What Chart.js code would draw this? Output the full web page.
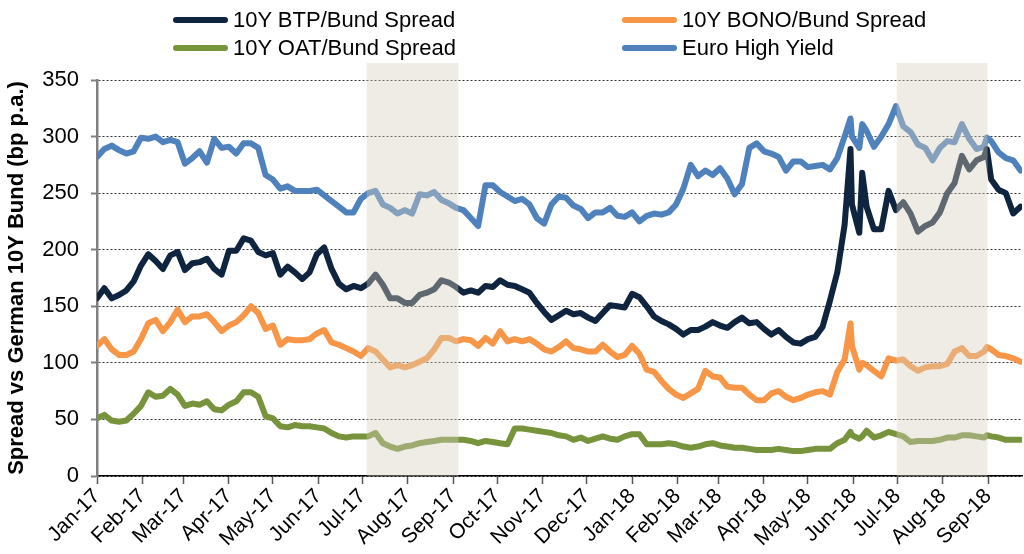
<!DOCTYPE html>
<html>
<head>
<meta charset="utf-8">
<script src="https://cdn.jsdelivr.net/npm/chart.js@4.4.1/dist/chart.umd.min.js"></script>
<style>
  body { margin: 0; background: #fff; }
  #wrap { position: relative; width: 1024px; height: 554px; }
  .item { position: absolute; display: flex; align-items: center; height: 28px;
          font-family: "Liberation Sans", Arial, sans-serif; font-size: 22px; color: #000; }
  .swatch { display: inline-block; width: 55px; height: 6px; border-radius: 3px; margin-right: 5px; }
</style>
</head>
<body>
<div id="wrap">
  <canvas id="spreadChart"></canvas>
  <div id="legend"></div>
</div>
<script>
// days since 1 Jan 2017
const days = [
    0,5,10,15,20,25,30,35,40,45,50,55,60,65,70,75,80,85,90,95,100,105,110,115,120,125,130,135,140,145,150,155,160,
    165,170,175,180,185,190,195,200,205,210,215,220,225,230,235,240,245,250,255,260,265,270,275,280,285,290,295,300,305,310,315,320,
    325,330,335,340,345,350,355,360,365,370,375,380,385,390,395,400,405,410,415,420,425,430,435,440,445,450,455,460,465,470,475,480,485,
    490,495,500,505,510,514,515,520,522,525,530,535,540,545,550,555,560,565,570,575,580,585,590,595,600,605,607,610,615,620,625,630
];
const btp = [
    157,166,157,160,164,172,186,196,190,183,195,198,182,188,189,192,183,178,199,199,210,208,198,195,197,178,185,180,174,180,196,202,183,
    170,165,168,166,170,178,169,157,157,153,153,160,162,165,173,171,167,162,164,162,168,167,173,169,168,165,162,153,145,138,142,146,
    143,144,140,137,144,151,150,149,161,158,150,141,137,134,130,125,129,129,132,136,133,131,136,140,135,136,130,125,129,123,118,117,121,
    123,132,155,180,222,289,240,215,268,238,218,218,252,235,242,232,216,221,224,233,250,259,283,271,279,282,289,262,253,250,232,238
];
const bono = [
    115,121,112,107,107,110,121,135,138,128,136,147,136,141,141,143,136,128,133,136,142,150,144,130,133,116,121,120,120,121,126,129,118,
    116,113,110,106,113,110,103,96,98,96,98,101,104,112,122,122,119,121,120,115,122,117,128,119,121,119,121,117,112,110,114,119,
    113,112,110,110,116,110,105,107,115,108,94,92,84,77,72,69,73,77,93,88,87,79,78,78,72,67,67,73,75,70,67,69,72,
    74,75,72,92,103,135,115,94,100,98,93,88,104,102,103,97,93,96,97,97,99,110,113,106,106,110,114,112,107,106,104,101
];
const oat = [
    51,54,49,48,49,55,62,74,70,71,77,72,62,64,63,66,59,58,63,66,74,74,70,53,51,44,43,45,44,44,43,42,38,
    35,34,35,35,35,38,29,26,24,26,27,29,30,31,32,32,32,32,31,29,31,30,29,28,42,42,41,40,39,38,36,35,
    32,34,31,33,35,33,32,35,37,37,28,28,28,29,28,26,25,26,28,29,27,26,25,25,24,23,23,23,24,23,22,22,23,
    24,24,24,29,32,39,36,33,35,40,34,36,39,37,35,30,31,31,31,32,34,34,36,36,35,34,36,35,34,32,32,32
];
const euroHY = [
    282,289,292,288,285,287,299,298,300,295,297,295,276,281,287,277,298,290,291,285,294,294,290,266,262,254,256,252,252,252,253,248,243,
    238,233,233,245,250,252,240,237,232,235,232,249,248,251,244,241,237,235,228,221,257,257,251,247,243,245,240,228,223,240,247,246,
    239,236,228,233,233,237,230,229,233,225,230,232,231,233,240,254,275,265,270,266,272,263,249,258,290,294,287,285,282,270,278,278,273,
    274,275,271,281,300,316,300,290,311,305,291,300,311,327,309,304,293,290,279,290,296,295,311,298,289,291,299,296,286,281,279,270
];
const monthDays = [0,31,59,90,120,151,181,212,243,273,304,334,365,396,424,455,485,516,546,577,608];
const monthLabels = ["Jan-17","Feb-17","Mar-17","Apr-17","May-17","Jun-17","Jul-17","Aug-17","Sep-17","Oct-17","Nov-17",
    "Dec-17","Jan-18","Feb-18","Mar-18","Apr-18","May-18","Jun-18","Jul-18","Aug-18","Sep-18"];
const shadedPeriods = [[184, 246.5], [545.5, 607.5]];

const seriesNames = ["10Y BTP/Bund Spread", "10Y BONO/Bund Spread", "10Y OAT/Bund Spread", "Euro High Yield"];
const seriesColors = ["#0F243E", "#F79646", "#77933C", "#4F81BD"];
const seriesData = [btp, bono, oat, euroHY];

const font = "'Liberation Sans', Arial, sans-serif";

// legend (2 x 2 grid like the original)
const legendSpots = [[173, 6], [622, 6], [173, 34], [622, 34]];
const legend = document.getElementById("legend");
seriesNames.forEach((name, i) => {
    const div = document.createElement("div");
    div.className = "item";
    div.style.left = legendSpots[i][0] + "px";
    div.style.top = legendSpots[i][1] + "px";
    const sw = document.createElement("span");
    sw.className = "swatch";
    sw.style.background = seriesColors[i];
    const txt = document.createElement("span");
    txt.textContent = name;
    div.appendChild(sw);
    div.appendChild(txt);
    legend.appendChild(div);
});

const shadePlugin = {
    id: "shade",
    afterDatasetsDraw(chart) {
        const ctx = chart.ctx;
        const xs = chart.scales.x;
        const ys = chart.scales.y;
        const top = ys.getPixelForValue(365);
        const bottom = ys.getPixelForValue(0);
        ctx.save();
        ctx.fillStyle = "rgba(215, 207, 190, 0.4)";
        shadedPeriods.forEach(p => {
            const x1 = xs.getPixelForValue(p[0]);
            const x2 = xs.getPixelForValue(p[1]);
            ctx.fillRect(x1, top, x2 - x1, bottom - top);
        });
        ctx.restore();
    }
};

const ctx = document.getElementById("spreadChart").getContext("2d");
const spreadChart = new Chart(ctx, {
    type: "line",
    data: {
        datasets: seriesNames.map((name, i) => ({
            label: name,
            data: days.map((d, j) => ({x: d, y: seriesData[i][j]})),
            borderColor: seriesColors[i],
            backgroundColor: seriesColors[i],
            borderWidth: 6,
            borderJoinStyle: "round",
            borderCapStyle: "round",
            pointRadius: 0,
            tension: 0,
        }))
    },
    options: {
        responsive: true,
        maintainAspectRatio: false,
        animation: false,
        layout: { padding: { top: 80, right: 2, left: 0, bottom: 0 } },
        plugins: {
            legend: { display: false },
            tooltip: { enabled: false },
        },
        scales: {
            x: {
                type: "linear",
                min: 0,
                max: 631,
                afterBuildTicks: (scale) => {
                    scale.ticks = monthDays.map(v => ({value: v}));
                },
                afterFit: (scale) => { scale.height = 78; },
                ticks: {
                    autoSkip: false,
                    minRotation: 45,
                    maxRotation: 45,
                    padding: 0,
                    color: "#000",
                    font: { family: font, size: 21 },
                    callback: (value) => monthLabels[monthDays.indexOf(value)],
                },
                grid: {
                    drawOnChartArea: false,
                    drawTicks: true,
                    tickLength: 8,
                    tickColor: "#555",
                    tickWidth: 1.5,
                },
                border: { color: "#000", width: 1.5 },
            },
            y: {
                min: 0,
                max: 350,
                afterFit: (scale) => { scale.width = 97; },
                ticks: {
                    stepSize: 50,
                    padding: 12,
                    color: "#000",
                    font: { family: font, size: 22 },
                },
                grid: {
                    color: "#333",
                    lineWidth: 1,
                    tickLength: 6,
                    tickColor: "#808080",
                    tickWidth: 2,
                },
                border: { color: "#808080", width: 2.5, dash: [2, 2] },
                title: {
                    display: true,
                    text: "Spread vs German 10Y Bund (bp p.a.)",
                    color: "#000",
                    font: { family: font, size: 22, weight: "bold" },
                    padding: { top: 4, bottom: 0 },
                },
            },
        },
    },
    plugins: [shadePlugin],
});
</script>
</body>
</html>
